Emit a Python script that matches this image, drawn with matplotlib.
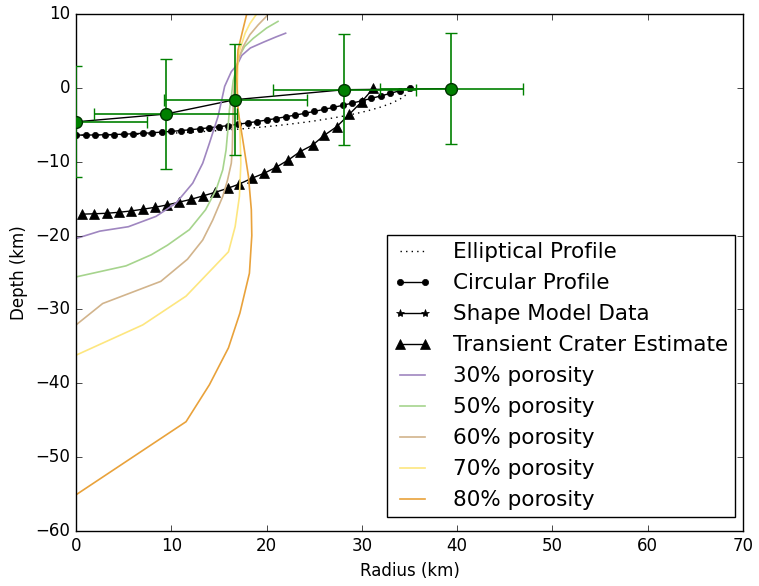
import matplotlib
matplotlib.use("Agg")
import matplotlib.pyplot as plt

plt.style.use("classic")
plt.rcParams["font.family"] = ["DejaVu Sans"]

# Elliptical profile
ell_x = [0, 1, 2, 3, 4, 5, 6, 7, 8, 9, 10, 11, 12, 13, 14, 15, 16, 17, 18, 19, 20,
         21, 22, 23, 24, 25, 26, 27, 28, 29, 30, 31, 32, 33, 34, 34.5, 34.8, 35]
ell_y = [-6.40, -6.40, -6.39, -6.38, -6.36, -6.33, -6.31, -6.27, -6.23, -6.18, -6.13,
         -6.08, -6.01, -5.94, -5.87, -5.78, -5.69, -5.59, -5.49, -5.37, -5.25,
         -5.12, -4.98, -4.82, -4.66, -4.48, -4.28, -4.07, -3.84, -3.58, -3.30,
         -2.97, -2.59, -2.13, -1.52, -1.08, -0.68, 0.0]

# Circular profile
circ_x = list(range(0, 36))
circ_y = [-6.40, -6.39, -6.38, -6.35, -6.32, -6.27, -6.22, -6.15, -6.08, -5.99, -5.89,
          -5.79, -5.67, -5.54, -5.40, -5.26, -5.10, -4.93, -4.75, -4.56, -4.36,
          -4.15, -3.92, -3.69, -3.45, -3.19, -2.92, -2.65, -2.36, -2.06, -1.75,
          -1.42, -1.09, -0.74, -0.38, 0.0]

# Shape model data
shape_x = [0.0, 9.4, 16.7, 28.15, 39.4]
shape_y = [-4.6, -3.55, -1.6, -0.25, -0.1]
shape_xerr = [7.5, 7.5, 7.5, 7.5, 7.5]
shape_yerr = [7.5, 7.5, 7.5, 7.5, 7.5]

# Transient crater estimate
trans_x = [0.63, 1.92, 3.22, 4.48, 5.77, 7.00, 8.29, 9.52, 10.78, 12.07, 13.30, 14.62,
           15.92, 17.14, 18.44, 19.73, 20.99, 22.28, 23.51, 24.84, 26.06, 27.36,
           28.68, 29.99, 31.20]
trans_y = [-17.10, -17.05, -16.98, -16.85, -16.67, -16.44, -16.17, -15.86, -15.49,
           -15.09, -14.64, -14.14, -13.60, -13.02, -12.25, -11.57, -10.76, -9.77,
           -8.64, -7.74, -6.42, -5.26, -3.58, -1.87, -0.06]

# Porosity model profiles
p30_x = [0, 2.5, 5.5, 8.4, 10.5, 12.25, 13.3, 14.0, 14.5, 14.9, 15.3, 15.6, 16.3,
         16.9, 17.4, 18.3, 19.7, 21.0, 22.0]
p30_y = [-20.4, -19.4, -18.8, -17.4, -15.6, -12.9, -10.2, -7.5, -5.5, -3.9, -1.6, 0.2,
         2.2, 3.1, 4.4, 5.4, 6.2, 6.9, 7.4]

p50_x = [0, 5.25, 7.9, 9.6, 11.9, 13.6, 14.7, 15.4, 15.75, 15.95, 16.1, 16.3, 16.5,
         16.9, 17.1, 17.7, 18.6, 20.0, 21.2]
p50_y = [-25.6, -24.1, -22.6, -21.3, -19.2, -16.5, -13.8, -11.1, -8.4, -5.5, -3.0, -1.2,
         1.0, 2.9, 4.2, 5.6, 6.7, 8.1, 9.0]

p60_x = [0, 2.8, 8.9, 11.7, 13.3, 14.35, 15.4, 15.9, 16.3, 16.4, 16.45, 16.5, 16.6,
         16.86, 17.15, 17.55, 18.25, 19.1, 20.0, 20.4]
p60_y = [-32.1, -29.2, -26.2, -23.2, -20.6, -17.9, -14.7, -12.5, -10.2, -8.4, -5.3,
         -2.5, 0.2, 2.9, 4.2, 5.6, 7.2, 8.5, 9.7, 10.5]

p70_x = [0, 7.0, 11.55, 16.0, 16.7, 17.15, 17.3, 17.2, 16.95, 16.93, 17.0, 17.3,
         17.75, 18.25, 18.9, 19.3]
p70_y = [-36.2, -32.1, -28.2, -22.2, -18.8, -14.7, -10.2, -5.5, -2.0, 0.2, 4.2, 5.6,
         7.4, 8.7, 9.9, 10.5]

p80_x = [0, 11.55, 14.0, 16.0, 17.2, 18.2, 18.45, 18.4, 18.1, 17.56, 17.0, 16.86,
         17.0, 17.5, 17.9, 18.1]
p80_y = [-55.1, -45.2, -40.2, -35.2, -30.5, -25.1, -20.0, -16.5, -12.0, -7.5, -3.0,
         1.5, 5.1, 7.8, 9.9, 11.0]

porosity_labels = ["30% porosity", "50% porosity", "60% porosity", "70% porosity",
                   "80% porosity"]
porosity_colors = ["#9f86c0", "#a6d48d", "#d2b48c", "#fde67f", "#e9a23b"]

fig = plt.figure(figsize=(7.59, 5.86), dpi=100, facecolor="white")
ax = fig.add_axes([76 / 759, 1 - 531 / 586, (743 - 76) / 759, (531 - 14) / 586])

ax.plot(ell_x, ell_y, "k:", label="Elliptical Profile")
ax.plot(circ_x, circ_y, "k.-", markersize=9, label="Circular Profile")
ax.plot(shape_x, shape_y, "k*-", label="Shape Model Data")
ax.errorbar(shape_x, shape_y, xerr=shape_xerr, yerr=shape_yerr, fmt="o",
            color="g", ecolor="g", markersize=8.5, markeredgecolor="#003300",
            markeredgewidth=1, capsize=4, elinewidth=1.2, zorder=3)
ax.plot(trans_x, trans_y, "k^-", markersize=7.5, label="Transient Crater Estimate")

px = [p30_x, p50_x, p60_x, p70_x, p80_x]
py = [p30_y, p50_y, p60_y, p70_y, p80_y]
for xs, ys, lab, col in zip(px, py, porosity_labels, porosity_colors):
    ax.plot(xs, ys, "-", color=col, linewidth=1.2, label=lab)

ax.set_xlim(0, 70)
ax.set_ylim(-60, 10)
ax.set_xlabel("Radius (km)")
ax.set_ylabel("Depth (km)")

leg = ax.legend(loc="lower right", bbox_to_anchor=(0.988, 0.027), borderaxespad=0,
                fontsize=15.5, numpoints=2, handlelength=1.75, handletextpad=1.0,
                labelspacing=0.51, borderpad=0.32)
leg.get_frame().set_edgecolor("black")

fig.savefig("out.png", dpi=100, facecolor="white")
